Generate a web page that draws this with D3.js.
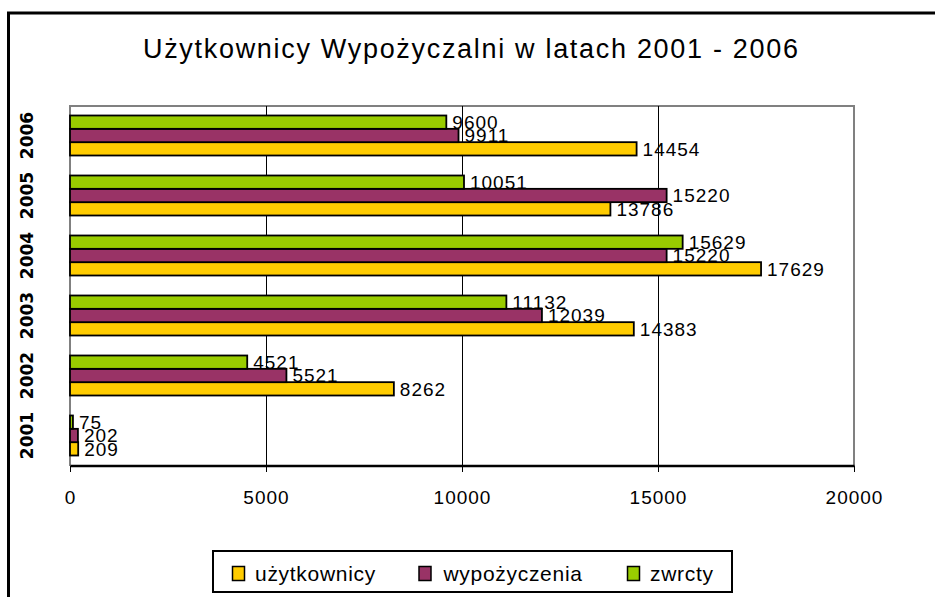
<!DOCTYPE html>
<html>
<head>
<meta charset="utf-8">
<script src="https://cdn.jsdelivr.net/npm/d3@7"></script>
<style>
  html, body { margin: 0; padding: 0; background: #ffffff; }
  svg { display: block; }
</style>
</head>
<body>
<svg id="chart" width="935" height="597"></svg>
<script>
// ---- data ----
const chartTitle = "Użytkownicy Wypożyczalni w latach 2001 - 2006";
const years = ["2001", "2002", "2003", "2004", "2005", "2006"];
const seriesNames = ["użytkownicy", "wypożyczenia", "zwrcty"];
const uzytkownicy = [209, 8262, 14383, 17629, 13786, 14454];
const wypozyczenia = [202, 5521, 12039, 15220, 15220, 9911];
const zwrcty = [75, 4521, 11132, 15629, 10051, 9600];
const xTickValues = [0, 5000, 10000, 15000, 20000];
const seriesColors = ["#FFCC00", "#993366", "#99CC00"];

const seriesValues = [uzytkownicy, wypozyczenia, zwrcty];
const series = seriesNames.map((name, i) => ({
  name, color: seriesColors[i],
  values: years.map((y, j) => ({ year: y, value: seriesValues[i][j] }))
}));

const svg = d3.select("#chart");
const plot = { left: 70, right: 854, top: 105.5, bottom: 465.5 };

// outer chart border (partially visible)
svg.append("path")
  .attr("d", `M8.5,600 L8.5,13 L940,13`)
  .attr("fill", "none").attr("stroke", "#000").attr("stroke-width", 3);

// title
svg.append("text")
  .attr("x", 470.5).attr("y", 58)
  .attr("text-anchor", "middle")
  .attr("font-family", "Liberation Sans, Arial, sans-serif")
  .attr("font-size", 27)
  .attr("textLength", 655).attr("lengthAdjust", "spacing")
  .text(chartTitle);

const x = d3.scaleLinear().domain([0, 20000]).range([plot.left, plot.right]);
const y = d3.scaleBand().domain(years.slice().reverse())
  .range([plot.top, plot.bottom]).paddingInner(1 / 3).paddingOuter(1 / 6);
const inner = d3.scaleBand().domain(["zwrcty", "wypożyczenia", "użytkownicy"])
  .range([0, y.bandwidth()]);

// plot area frame (grey)
svg.append("path")
  .attr("d", `M${plot.left},${plot.bottom} L${plot.left},${plot.top} L${plot.right},${plot.top} L${plot.right},${plot.bottom}`)
  .attr("fill", "none").attr("stroke", "#808080").attr("stroke-width", 2)
  .attr("shape-rendering", "crispEdges");

// gridlines
svg.append("g").attr("shape-rendering", "crispEdges").selectAll("line")
  .data(xTickValues.filter(d => d > 0 && d < 20000))
  .join("line")
  .attr("x1", d => Math.round(x(d)) + 0.5).attr("x2", d => Math.round(x(d)) + 0.5)
  .attr("y1", plot.top).attr("y2", plot.bottom)
  .attr("stroke", "#000").attr("stroke-width", 1.5);

// bars
const gBars = svg.append("g");
series.forEach(s => {
  gBars.append("g").selectAll("rect")
    .data(s.values)
    .join("rect")
    .attr("x", x(0))
    .attr("y", d => y(d.year) + inner(s.name))
    .attr("width", d => x(d.value) - x(0))
    .attr("height", inner.bandwidth())
    .attr("fill", s.color)
    .attr("stroke", "#000").attr("stroke-width", 1.8);
});

// x axis
const xAxis = d3.axisBottom(x).tickValues(xTickValues).tickSize(6).tickSizeOuter(0)
  .tickPadding(19).tickFormat(d3.format("d"));
const gx = svg.append("g").attr("transform", `translate(0,${plot.bottom})`).call(xAxis);
gx.select(".domain").attr("stroke", "#000").attr("stroke-width", 2.5);
gx.selectAll(".tick line").attr("stroke", "#000").attr("stroke-width", 1.5)
  .attr("shape-rendering", "crispEdges");
gx.selectAll(".tick text")
  .attr("fill", "#000")
  .attr("font-family", "Liberation Sans, Arial, sans-serif")
  .attr("font-size", 19)
  .attr("letter-spacing", "1px");

// value labels
const gLabels = svg.append("g")
  .attr("font-family", "Liberation Sans, Arial, sans-serif")
  .attr("font-size", 19).attr("letter-spacing", "1px");
series.forEach(s => {
  gLabels.append("g").selectAll("text")
    .data(s.values)
    .join("text")
    .attr("x", d => x(d.value) + 6)
    .attr("y", d => y(d.year) + inner(s.name) + inner.bandwidth() / 2 + 6.8)
    .attr("fill", "#000")
    .text(d => d.value);
});

// year labels (rotated)
svg.append("g").selectAll("text")
  .data(years)
  .join("text")
  .attr("transform", d => `translate(33.2,${y(d) + y.bandwidth() / 2}) rotate(-90)`)
  .attr("text-anchor", "middle")
  .attr("font-family", "DejaVu Sans, sans-serif")
  .attr("font-weight", "bold")
  .attr("font-size", 17)
  .text(d => d);

// legend
const legend = svg.append("g");
legend.append("rect")
  .attr("x", 213).attr("y", 551).attr("width", 519).attr("height", 41)
  .attr("fill", "#fff").attr("stroke", "#000").attr("stroke-width", 2);
const legendStarts = [232, 418.5, 627];
series.forEach((s, i) => {
  const g = legend.append("g").attr("transform", `translate(${legendStarts[i]},566)`);
  g.append("rect").attr("x", 0.5).attr("y", 0.5).attr("width", 12).attr("height", 14)
    .attr("fill", s.color).attr("stroke", "#000").attr("stroke-width", 1.5);
  g.append("text")
    .attr("x", i === 1 ? 25 : 23).attr("y", 15)
    .attr("font-family", "Liberation Sans, Arial, sans-serif")
    .attr("font-size", 21)
    .attr("letter-spacing", "0.7px")
    .text(s.name);
});
</script>
</body>
</html>
